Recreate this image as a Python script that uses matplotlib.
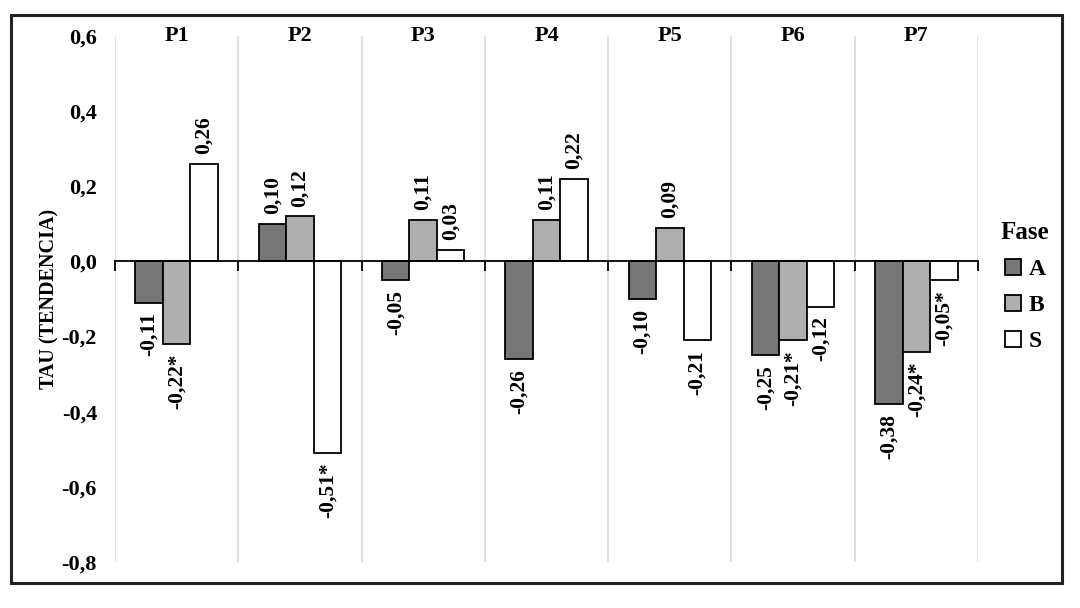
import matplotlib
matplotlib.use("Agg")
import matplotlib.pyplot as plt
from matplotlib.patches import Rectangle, Patch
import numpy as np

categories = ["P1", "P2", "P3", "P4", "P5", "P6", "P7"]
serie_A = [-0.11, 0.10, -0.05, -0.26, -0.10, -0.25, -0.38]
serie_B = [-0.22, 0.12, 0.11, 0.11, 0.09, -0.21, -0.24]
serie_S = [0.26, -0.51, 0.03, 0.22, -0.21, -0.12, -0.05]
sig_A = [False] * 7
sig_B = [True, False, False, False, False, True, True]
sig_S = [False, True, False, False, False, False, True]
yticks = [-0.8, -0.6, -0.4, -0.2, 0.0, 0.2, 0.4, 0.6]
series_names = ["A", "B", "S"]

plt.rcParams['font.family'] = ['Liberation Serif', 'DejaVu Serif']
plt.rcParams['font.weight'] = 'bold'

fig = plt.figure(figsize=(10.8, 6.08), dpi=100)
ax = fig.add_axes([115/1080, 1-562/608, (978-115)/1080, (562-36)/608])

colors = ["#767676", "#afafaf", "#ffffff"]
width = 0.223
x = np.arange(len(categories))
offsets = [-width, 0, width]
for vals, sig, off, col, name in zip([serie_A, serie_B, serie_S], [sig_A, sig_B, sig_S],
                                     offsets, colors, series_names):
    ax.bar(x + off, vals, width, color=col, edgecolor='black', linewidth=1.3,
           label=name, zorder=3)
    for xi, v, s in zip(x + off, vals, sig):
        txt = ("%.2f" % v).replace('.', ',') + ("*" if s else "")
        if v >= 0:
            ax.annotate(txt, (xi, v), xytext=(0, 7), textcoords='offset points',
                        rotation=90, ha='center', va='bottom', fontsize=15.5, fontweight='bold')
        else:
            ax.annotate(txt, (xi, v), xytext=(0, -7), textcoords='offset points',
                        rotation=90, ha='center', va='top', fontsize=15.5, fontweight='bold')

ax.set_xlim(-0.5, len(categories) - 0.5)
ax.set_ylim(-0.8, 0.6)
bounds = np.arange(-0.5, len(categories), 1.0)
ax.set_xticks(bounds)
ax.set_xticklabels([''] * len(bounds))
ax.tick_params(axis='x', direction='out', length=7, width=1.3, color='black')
ax.grid(axis='x', color='#d9d9d9', linewidth=1.2, zorder=0)
ax.set_axisbelow(True)

for sp in ['top', 'right', 'left']:
    ax.spines[sp].set_visible(False)
ax.spines['bottom'].set_position(('data', 0))
ax.spines['bottom'].set_linewidth(1.3)
ax.spines['bottom'].set_zorder(4)

ax.set_yticks(yticks)
ax.set_yticklabels([("%.1f" % t).replace('.', ',') for t in yticks], fontsize=16, fontweight='bold')
ax.tick_params(axis='y', length=0, pad=13)

for i, c in enumerate(categories):
    ax.text(i, 0.6, c, ha='center', va='center', fontsize=16, fontweight='bold')

ax.set_ylabel("TAU (TENDENCIA)", fontsize=14.5, fontweight='bold')
ax.yaxis.set_label_coords((59-115)/863, 0.5)

handles = [Patch(facecolor=c, edgecolor='black', linewidth=1.3) for c in colors]
leg = fig.legend(handles, series_names, title="Fase", loc='upper left',
                 bbox_to_anchor=(982/1080, 1-202/608), frameon=False,
                 prop={'size': 17, 'weight': 'bold'}, handlelength=0.7, handleheight=0.7,
                 handletextpad=0.3, labelspacing=0.62, borderpad=0.3)
leg.get_title().set_fontsize(18)
leg.get_title().set_fontweight('bold')

fig.patches.append(Rectangle((11/1080, 1-583/608), (1062-11)/1080, (583-15)/608,
                             transform=fig.transFigure, fill=False, edgecolor='#222222',
                             linewidth=2.2))

fig.savefig("out.png", dpi=100)
